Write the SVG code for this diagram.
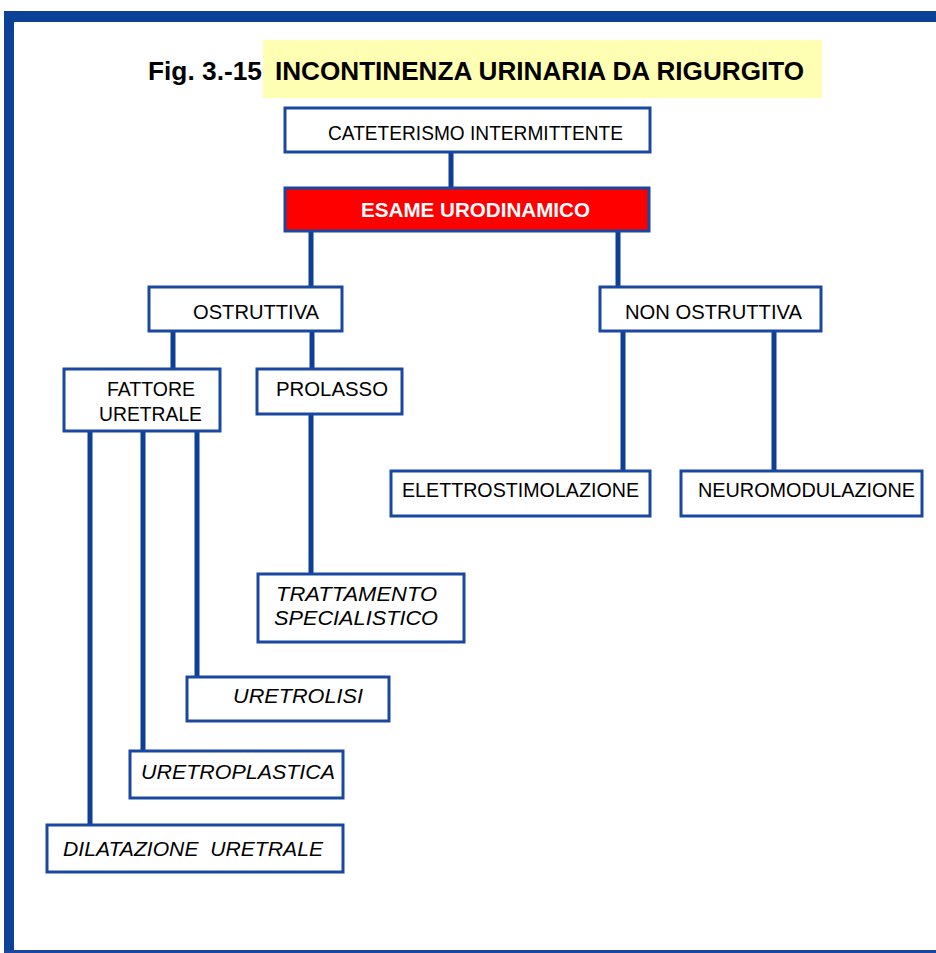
<svg xmlns="http://www.w3.org/2000/svg" width="936" height="953" viewBox="0 0 936 953">
<style>
.box{fill:#fff;stroke:#1a48a0;stroke-width:3}
.red{fill:#ff0000;stroke:#1a48a0;stroke-width:3}
.t{font-family:"Liberation Sans",Arial,sans-serif;font-size:21px;fill:#000}
.i{font-style:italic}
.w{fill:#fff;font-weight:bold}
.ttl{font-family:"Liberation Sans",Arial,sans-serif;font-size:25px;font-weight:bold;fill:#000}
.c{stroke:#0e3f97;stroke-width:5;fill:none}
</style>
<rect width="936" height="953" fill="#fff"/>
<g id="frame">
<rect x="4" y="11" width="932" height="11" fill="#0b4298"/>
<rect x="4" y="11" width="10" height="942" fill="#0b4298"/>
<rect x="4" y="950" width="932" height="3" fill="#1a48a0"/>
</g>
<g id="title">
<rect x="263" y="40" width="559" height="58" fill="#ffffb4"/>
<text class="ttl" x="148" y="80" textLength="114" lengthAdjust="spacingAndGlyphs">Fig. 3.-15</text>
<text class="ttl" x="275" y="80" textLength="529" lengthAdjust="spacingAndGlyphs">INCONTINENZA URINARIA DA RIGURGITO</text>
</g>
<g id="connectors">
<line class="c" x1="451" y1="152" x2="451" y2="188"/>
<line class="c" x1="311" y1="231" x2="311" y2="287"/>
<line class="c" x1="618" y1="231" x2="618" y2="287"/>
<line class="c" x1="173" y1="331" x2="173" y2="369"/>
<line class="c" x1="312" y1="331" x2="312" y2="369"/>
<line class="c" x1="90" y1="431" x2="90" y2="824"/>
<line class="c" x1="143" y1="431" x2="143" y2="750"/>
<line class="c" x1="197" y1="431" x2="197" y2="676"/>
<line class="c" x1="311" y1="414" x2="311" y2="573"/>
<line class="c" x1="623" y1="331" x2="623" y2="471"/>
<line class="c" x1="774" y1="331" x2="774" y2="471"/>
</g>
<g id="cateterismo">
<rect class="box" x="285" y="108" width="365" height="44"/>
<text class="t" x="328" y="140" textLength="295" lengthAdjust="spacingAndGlyphs">CATETERISMO INTERMITTENTE</text>
</g>
<g id="esame">
<rect class="red" x="285" y="188" width="364" height="43"/>
<text class="t w" x="361" y="217" textLength="229" lengthAdjust="spacingAndGlyphs">ESAME URODINAMICO</text>
</g>
<g id="ostruttiva">
<rect class="box" x="149" y="287" width="193" height="44"/>
<text class="t" x="193" y="319" textLength="126" lengthAdjust="spacingAndGlyphs">OSTRUTTIVA</text>
</g>
<g id="non-ostruttiva">
<rect class="box" x="600" y="287" width="221" height="44"/>
<text class="t" x="625" y="319" textLength="177" lengthAdjust="spacingAndGlyphs">NON OSTRUTTIVA</text>
</g>
<g id="fattore">
<rect class="box" x="64" y="369" width="156" height="62"/>
<text class="t" x="107" y="396" textLength="88" lengthAdjust="spacingAndGlyphs">FATTORE</text>
<text class="t" x="99" y="421" textLength="103" lengthAdjust="spacingAndGlyphs">URETRALE</text>
</g>
<g id="prolasso">
<rect class="box" x="257" y="369" width="145" height="45"/>
<text class="t" x="276" y="396" textLength="112" lengthAdjust="spacingAndGlyphs">PROLASSO</text>
</g>
<g id="elettrostimolazione">
<rect class="box" x="391" y="471" width="259" height="45"/>
<text class="t" x="402" y="497" textLength="237" lengthAdjust="spacingAndGlyphs">ELETTROSTIMOLAZIONE</text>
</g>
<g id="neuromodulazione">
<rect class="box" x="681" y="471" width="241" height="45"/>
<text class="t" x="698" y="497" textLength="217" lengthAdjust="spacingAndGlyphs">NEUROMODULAZIONE</text>
</g>
<g id="trattamento">
<rect class="box" x="258" y="574" width="206" height="68"/>
<text class="t i" x="276" y="601" textLength="161" lengthAdjust="spacingAndGlyphs">TRATTAMENTO</text>
<text class="t i" x="274" y="625" textLength="164" lengthAdjust="spacingAndGlyphs">SPECIALISTICO</text>
</g>
<g id="uretrolisi">
<rect class="box" x="187" y="677" width="202" height="44"/>
<text class="t i" x="233" y="703" textLength="130" lengthAdjust="spacingAndGlyphs">URETROLISI</text>
</g>
<g id="uretroplastica">
<rect class="box" x="130" y="751" width="213" height="47"/>
<text class="t i" x="141" y="779" textLength="194" lengthAdjust="spacingAndGlyphs">URETROPLASTICA</text>
</g>
<g id="dilatazione">
<rect class="box" x="47" y="825" width="296" height="47"/>
<text class="t i" x="63" y="856" textLength="260" lengthAdjust="spacingAndGlyphs" xml:space="preserve">DILATAZIONE  URETRALE</text>
</g>
</svg>
